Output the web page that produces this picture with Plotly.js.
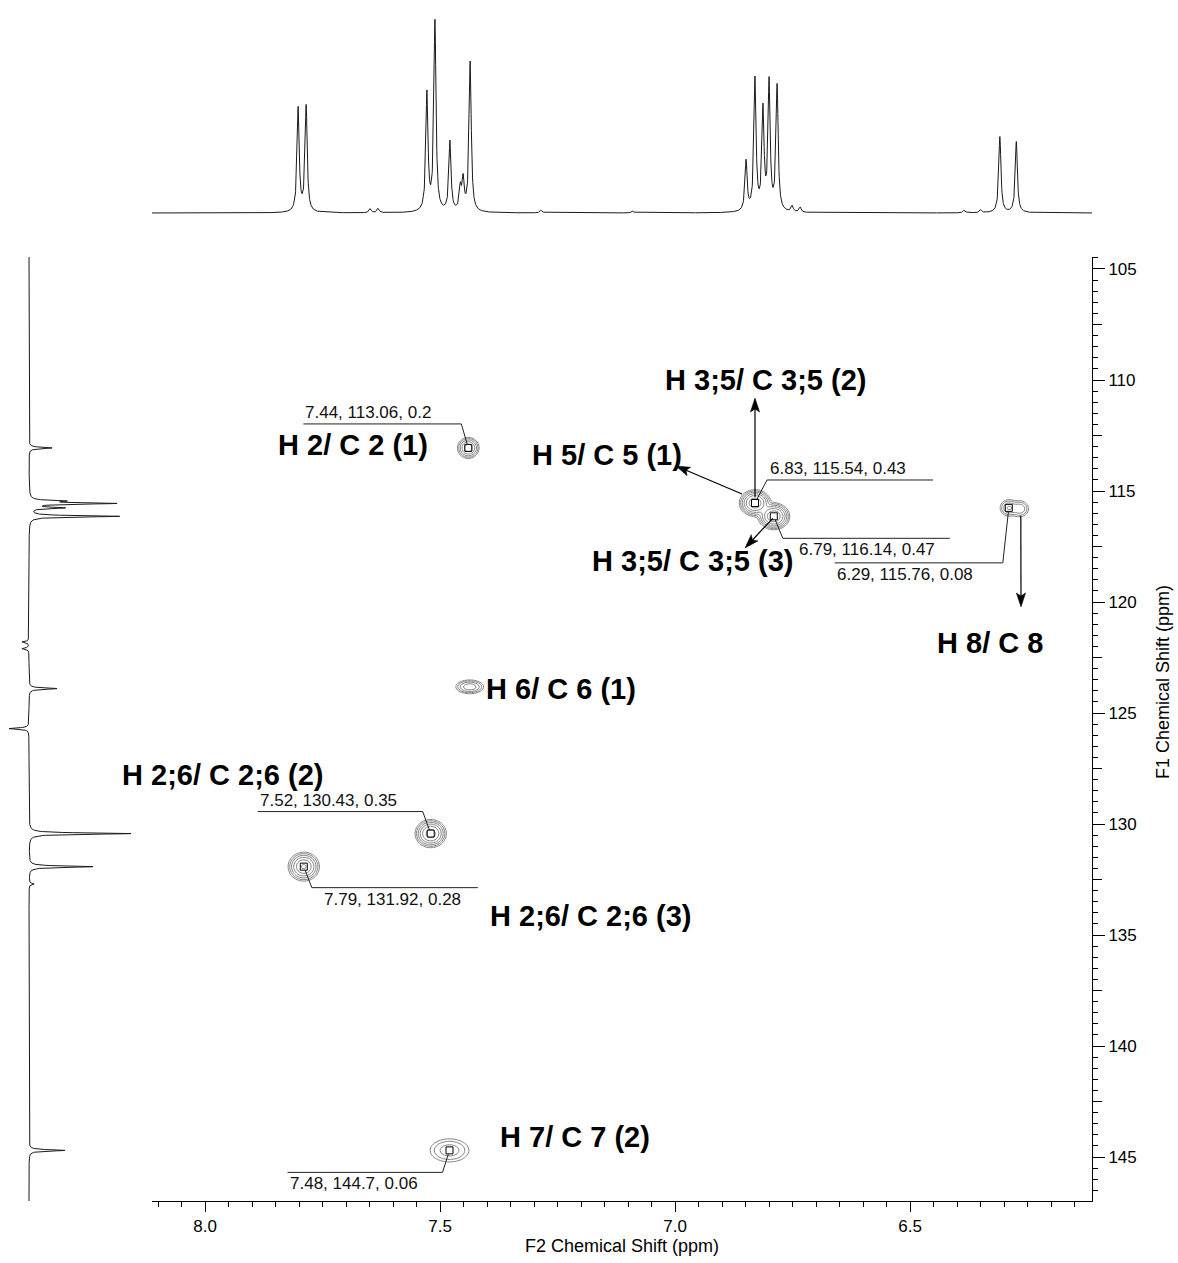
<!DOCTYPE html>
<html>
<head>
<meta charset="utf-8">
<script src="https://cdn.plot.ly/plotly-3.0.1.min.js"></script>
<style>html,body{margin:0;padding:0;background:#fff}</style>
</head>
<body>
<div id="chart" style="width:1178px;height:1263px"></div>
<script>
// ---------- 1H projection (F2): line positions (ppm) and heights ----------
const hShift  = [7.802, 7.785, 7.649, 7.632, 7.528, 7.511, 7.479, 7.457, 7.451, 7.436, 7.285, 7.09,
                 6.849, 6.830, 6.813, 6.800, 6.783, 6.751, 6.734, 6.385, 6.350, 6.309, 6.274];
const hHeight = [104, 106, 4, 4.5, 118, 190, 70, 22, 30, 150, 3, 2,
                 50, 132, 100, 128, 125, 6, 5, 3, 3, 76, 71];

// ---------- 13C projection (F1): line positions (ppm) and heights ----------
const cShift  = [113.06, 115.45, 115.56, 115.76, 116.14, 121.8, 122.1, 123.9, 125.7, 130.43, 131.92, 132.7, 144.7];
const cHeight = [23, 30, 84, 33, 90, -7, -7, 28, -20, 102, 64, 5, 36];

// ---------- picked HSQC cross peaks: F2 (ppm), F1 (ppm), intensity ----------
const peakF2  = [7.44, 6.83, 6.79, 6.29, 7.52, 7.79, 7.48];
const peakF1  = [113.06, 115.54, 116.14, 115.76, 130.43, 131.92, 144.7];
const peakInt = [0.2, 0.43, 0.47, 0.08, 0.35, 0.28, 0.06];
// line widths (sigma, ppm) of the picked cross peaks
const peakWidthF2 = [0.0097, 0.0125, 0.0125, 0.0095, 0.0128, 0.0133, 0.023];
const peakWidthF1 = [0.20, 0.225, 0.225, 0.19, 0.245, 0.26, 0.29];

// cross peaks present in the map but not picked
const extraF2  = [7.437, 6.266];
const extraF1  = [123.82, 115.8];
const extraInt = [0.12, 0.07];
const extraWidthF2 = [0.0138, 0.0095];
const extraWidthF1 = [0.145, 0.19];

// assignment labels
const assignText = ['H 2/ C 2 (1)', 'H 3;5/ C 3;5 (2)', 'H 5/ C 5 (1)', 'H 3;5/ C 3;5 (3)', 'H 8/ C 8',
                    'H 6/ C 6 (1)', 'H 2;6/ C 2;6 (2)', 'H 2;6/ C 2;6 (3)', 'H 7/ C 7 (2)'];

// ---------- geometry ----------
const W = 1178, H = 1263;
const X_RANGE = [8.113, 6.113];
const Y_RANGE = [146.98, 104.46];          // bottom, top
const PLOT_L = 152, PLOT_R = 1092, PLOT_T = 257, PLOT_B = 1201;
const xDomain = [PLOT_L / W, PLOT_R / W];
const yDomain = [1 - PLOT_B / H, 1 - PLOT_T / H];

const xPx  = v => PLOT_L + (X_RANGE[0] - v) / (X_RANGE[0] - X_RANGE[1]) * (PLOT_R - PLOT_L);
const xVal = p => X_RANGE[0] - (p - PLOT_L) / (PLOT_R - PLOT_L) * (X_RANGE[0] - X_RANGE[1]);
const yPx  = v => PLOT_T + (v - Y_RANGE[1]) / (Y_RANGE[0] - Y_RANGE[1]) * (PLOT_B - PLOT_T);
const yVal = p => Y_RANGE[1] + (p - PLOT_T) / (PLOT_B - PLOT_T) * (Y_RANGE[0] - Y_RANGE[1]);

const FONT = 'Arial, "Liberation Sans", sans-serif';

// ---------- 1D traces from Lorentzian lines ----------
function lorentzSum(axis, pos, amp, hw) {
  return axis.map(v => {
    let s = 0;
    for (let k = 0; k < pos.length; k++) {
      const d = (v - pos[k]) / hw;
      s += amp[k] / (1 + d * d);
    }
    return s;
  });
}
const hAxis = [];
for (let i = 0; i <= 4000; i++) hAxis.push(X_RANGE[1] + i * 0.0005);
const hTrace = lorentzSum(hAxis, hShift, hHeight, 0.0027);

const cAxis = [];
for (let i = 0; i <= 4252; i++) cAxis.push(Y_RANGE[1] + i * 0.01);
const cTrace = lorentzSum(cAxis, cShift, cHeight, 0.035);

// ---------- 2D map (log intensity so that contour levels are geometric) ----------
const allF2 = peakF2.concat(extraF2), allF1 = peakF1.concat(extraF1), allI = peakInt.concat(extraInt);
const allSx = peakWidthF2.concat(extraWidthF2), allSy = peakWidthF1.concat(extraWidthF1);
const gx = [], gy = [];
for (let i = 0; i <= 666; i++) gx.push(X_RANGE[1] + i * 0.003);
for (let j = 0; j <= 607; j++) gy.push(Y_RANGE[1] + j * 0.07);
const gz = gy.map(yv => gx.map(xv => {
  let s = 1e-9;
  for (let k = 0; k < allF2.length; k++) {
    const dx = (xv - allF2[k]) / allSx[k], dy = (yv - allF1[k]) / allSy[k];
    const r2 = dx * dx + dy * dy;
    if (r2 < 60) s += allI[k] * Math.exp(-0.5 * r2);
  }
  return Math.log(s);
}));

const traces = [
  { type: 'contour', x: gx, y: gy, z: gz, xaxis: 'x', yaxis: 'y',
    contours: { start: Math.log(0.012), end: 0, size: Math.log(1.85), coloring: 'none' },
    line: { color: '#808080', width: 1, smoothing: 1 },
    showscale: false, hoverinfo: 'skip' },
  { type: 'scatter', mode: 'markers', x: peakF2, y: peakF1, xaxis: 'x', yaxis: 'y',
    marker: { symbol: 'square-open', size: 7, color: '#000', line: { width: 1, color: '#000' } },
    hoverinfo: 'skip' },
  { type: 'scatter', mode: 'lines', x: hAxis, y: hTrace, xaxis: 'x2', yaxis: 'y2',
    line: { color: '#1a1a1a', width: 1 }, hoverinfo: 'skip' },
  { type: 'scatter', mode: 'lines', x: cTrace, y: cAxis, xaxis: 'x3', yaxis: 'y3',
    line: { color: '#1a1a1a', width: 1 }, hoverinfo: 'skip' },
  { type: 'scatter', mode: 'lines', x: [null], y: [null], xaxis: 'x', yaxis: 'y4', hoverinfo: 'skip' }
];

// ---------- peak-pick leaders: rule offset from the box (px) ----------
const LEADERS = [
  { dy: -24, from: -165, to: -7,  side: 'above', textDx: 0 },
  { dy: -23, from: 12,   to: 178, side: 'above', textDx: 1 },
  { dy: 22,  from: 9,    to: 176, side: 'below', textDx: 14 },
  { dy: 55,  from: -174, to: -6,  side: 'below', textDx: 0 },
  { dy: -22, from: -173, to: -8,  side: 'above', textDx: 0 },
  { dy: 21,  from: 8,    to: 174, side: 'below', textDx: 10 },
  { dy: 22,  from: -162, to: -7,  side: 'below', textDx: 0 }
];

const shapes = [], annotations = [];
const pt = (px, py) => xVal(px) + ',' + yVal(py);

peakF2.forEach((f2, k) => {
  const bx = xPx(f2), by = yPx(peakF1[k]);
  const L = LEADERS[k];
  const ry = by + L.dy;
  const elbowX = bx + (L.from < 0 ? L.to : L.from);
  const farX = bx + (L.from < 0 ? L.from : L.to);
  const dx = elbowX - bx, dy = ry - by;
  const t = 3.5 / Math.max(Math.abs(dx), Math.abs(dy));
  shapes.push({ type: 'path', xref: 'x', yref: 'y', line: { color: '#222', width: 1 },
    path: 'M' + pt(farX, ry) + 'L' + pt(elbowX, ry) + 'L' + pt(bx + t * dx, by + t * dy) });
  annotations.push({ xref: 'x', yref: 'y', x: xVal(bx + L.from + L.textDx), y: yVal(ry),
    xanchor: 'left', yanchor: L.side === 'above' ? 'bottom' : 'top', showarrow: false,
    text: f2 + ', ' + peakF1[k] + ', ' + peakInt[k],
    font: { family: FONT, size: 17, color: '#111' } });
});

// ---------- arrows from cross peaks to their assignment ----------
const ARROWS = [
  { peak: 1, tail: [0, -6],   head: [755, 398] },
  { peak: 1, tail: [-13, -9], head: [676, 466] },
  { peak: 2, tail: [-1, 2],   head: [745, 548] },
  { peak: 3, tail: [12, 8],   head: [1021, 607] }
];
ARROWS.forEach(a => {
  const tx = xPx(peakF2[a.peak]) + a.tail[0], ty = yPx(peakF1[a.peak]) + a.tail[1];
  const [hx, hy] = a.head;
  const len = Math.hypot(hx - tx, hy - ty), ux = (hx - tx) / len, uy = (hy - ty) / len;
  const nx = -uy, ny = ux, hl = 14, hw = 4.6;
  const bx = hx - ux * hl, by = hy - uy * hl;
  shapes.push({ type: 'path', xref: 'x', yref: 'y', line: { color: '#000', width: 1.2 },
    path: 'M' + pt(tx, ty) + 'L' + pt(bx + ux * 3, by + uy * 3) });
  shapes.push({ type: 'path', xref: 'x', yref: 'y', line: { color: '#000', width: 0.5 }, fillcolor: '#000',
    path: 'M' + pt(hx, hy) + 'L' + pt(bx + nx * hw, by + ny * hw) + 'L' + pt(bx + ux * 3, by + uy * 3) +
          'L' + pt(bx - nx * hw, by - ny * hw) + 'Z' });
});

// ---------- assignment labels (figure px) ----------
const ASSIGN_AT = [[353, 445], [765, 380], [607, 455], [693, 561], [990, 643],
                   [561, 689], [222, 775], [590, 916], [575, 1137]];
assignText.forEach((s, k) => {
  annotations.push({ xref: 'paper', yref: 'paper', x: ASSIGN_AT[k][0] / W, y: 1 - ASSIGN_AT[k][1] / H,
    xanchor: 'center', yanchor: 'middle', showarrow: false, text: '<b>' + s + '</b>',
    font: { family: FONT, size: 29, color: '#000' } });
});

// F1 axis title
annotations.push({ xref: 'paper', yref: 'paper', x: 1163 / W, y: 1 - 682 / H, textangle: -90,
  xanchor: 'center', yanchor: 'middle', showarrow: false, text: 'F1 Chemical Shift (ppm)',
  font: { family: FONT, size: 18, color: '#000' } });

const layout = {
  width: W, height: H, margin: { l: 0, r: 0, t: 0, b: 0, pad: 0 },
  paper_bgcolor: '#fff', plot_bgcolor: 'rgba(0,0,0,0)', showlegend: false,
  font: { family: FONT, color: '#000' },
  xaxis: { domain: xDomain, range: X_RANGE, anchor: 'y', showgrid: false, zeroline: false,
    showline: true, linecolor: '#000', linewidth: 1, ticks: 'outside', ticklen: 10, tickwidth: 1,
    tickcolor: '#000', tick0: 0, dtick: 0.5, tickformat: '.1f', tickfont: { size: 17 },
    minor: { ticks: 'outside', dtick: 0.05, tick0: 0, ticklen: 5, tickwidth: 1, tickcolor: '#000', showgrid: false },
    title: { text: 'F2 Chemical Shift (ppm)', font: { size: 18 }, standoff: 3 } },
  yaxis: { domain: yDomain, range: Y_RANGE, anchor: 'x', side: 'right', showgrid: false, zeroline: false,
    showline: true, linecolor: '#000', linewidth: 1, ticks: 'outside', ticklen: 12, tickwidth: 1,
    tickcolor: '#000', tick0: 0, dtick: 5, tickfont: { size: 17 },
    minor: { ticks: 'outside', dtick: 0.5, tick0: 0, ticklen: 5, tickwidth: 1, tickcolor: '#000', showgrid: false } },
  yaxis4: { overlaying: 'y', anchor: 'x', side: 'right', range: Y_RANGE, showgrid: false, zeroline: false,
    showline: false, ticks: 'outside', ticklen: 9, tickwidth: 1, tickcolor: '#000', tick0: 0, dtick: 2.5,
    showticklabels: false },
  xaxis2: { domain: xDomain, range: X_RANGE, anchor: 'y2', visible: false },
  yaxis2: { domain: [1 - 216 / H, 1 - 8 / H], range: [-3, 205], anchor: 'x2', visible: false },
  xaxis3: { domain: [0, 140 / W], range: [-29, 111], anchor: 'y3', visible: false },
  yaxis3: { domain: yDomain, range: Y_RANGE, anchor: 'x3', visible: false },
  shapes: shapes, annotations: annotations
};

Plotly.newPlot('chart', traces, layout, { staticPlot: true, displayModeBar: false });
</script>
</body>
</html>
